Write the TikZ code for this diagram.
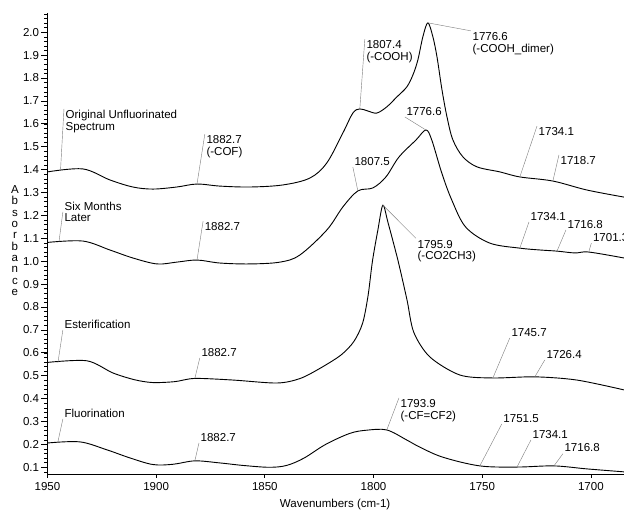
\documentclass[tikz,border=0pt]{standalone}
\usepackage{fontspec}
\setmainfont{Liberation Sans}

\begin{document}
\begin{tikzpicture}[x=-0.05435cm, y=5.725cm,
    lbl/.style={font=\fontsize{8.2}{8.3}\selectfont, inner sep=1pt, align=left},
    lead/.style={gray, line width=0.3pt},
    spec/.style={line width=0.65pt, line join=round},
    axisline/.style={line width=1.1pt}]

  \useasboundingbox (1971.85,-0.0908) rectangle (1684.8,2.1407);

  % axes
  \coordinate (O) at (1950,0.068);
  \coordinate (Ytop) at (1950,2.085);
  \coordinate (Xend) at (1684.8,0.068);
  \draw[axisline] (Ytop) -- (O) -- (Xend);

  \foreach \i in {4,...,104}
    \draw[line width=0.35pt] (1950,\i/50) -- ++(1.4,0);
  \foreach \v [count=\i] in {0.1,0.2,0.3,0.4,0.5,0.6,0.7,0.8,0.9,1.0,1.1,1.2,1.3,1.4,1.5,1.6,1.7,1.8,1.9,2.0}
    \draw[line width=0.5pt] (1950,\v) -- ++(2.8,0) node[lbl, left, inner sep=1.4pt] (Y\i) {\v};
  \foreach \w in {1950,1900,1850,1800,1750,1700}
    \draw[line width=0.5pt] (\w,0.068) -- (\w,0.052) node[lbl, below=2pt] (X\w) {\w};

  \node[lbl] (xlab) at (1817.65,-0.0646) {Wavenumbers (cm-1)};
  \node[lbl, align=center, font=\fontsize{8.2}{8.1}\selectfont] (ylab) at (1964.95,1.09)
    {A\\b\\s\\o\\r\\b\\a\\n\\c\\e};

  % original unfluorinated
  \draw[spec] plot[smooth, tension=0.55] coordinates {
    (1950,1.390) (1933.7,1.403) (1921.3,1.355) (1910.7,1.324) (1901.5,1.315)
    (1890.5,1.324) (1881.2,1.337) (1870.7,1.328) (1856.9,1.324) (1841.7,1.333)
    (1829.3,1.363) (1821.5,1.429) (1814.1,1.560) (1809.5,1.647) (1806.3,1.665)
    (1802.6,1.656) (1798.5,1.647) (1793.9,1.674) (1789.3,1.717) (1784.7,1.761)
    (1781.9,1.813) (1779.6,1.879) (1777.3,1.980) (1775.0,2.041) (1772.7,1.980)
    (1770.8,1.892) (1768.5,1.748) (1766.2,1.630) (1763.5,1.530) (1758.9,1.456)
    (1752.4,1.412) (1741.9,1.390) (1732.7,1.368) (1717.5,1.350) (1701.9,1.311)
    (1684.8,1.280)};

  % six months later
  \draw[spec] plot[smooth, tension=0.55] coordinates {
    (1950,1.082) (1933.7,1.088) (1921.3,1.049) (1910.7,1.014) (1899.6,0.988)
    (1890.5,0.996) (1881.2,1.005) (1870.7,0.992) (1856.9,0.988) (1843.0,0.996)
    (1833.9,1.027) (1821.5,1.136) (1814.1,1.237) (1807.2,1.307) (1800.3,1.320)
    (1794.3,1.368) (1788.3,1.455) (1780.5,1.529) (1775.9,1.573) (1773.2,1.529)
    (1768.6,1.385) (1764.0,1.267) (1757.6,1.149) (1746.5,1.079) (1732.7,1.057)
    (1723.5,1.049) (1715.6,1.044) (1707.3,1.036) (1701.0,1.040) (1684.8,1.014)};

  % esterification
  \draw[spec] plot[smooth, tension=0.5] coordinates {
    (1950,0.558) (1931.8,0.565) (1919.9,0.512) (1909.8,0.482) (1901.5,0.470)
    (1891.4,0.474) (1882.2,0.488) (1864.7,0.481) (1844.5,0.468) (1834.0,0.487)
    (1825.0,0.530) (1815.0,0.590) (1809.0,0.650) (1805.0,0.730) (1802.5,0.850)
    (1800.5,1.000) (1798.0,1.136) (1795.7,1.245) (1793.4,1.171) (1788.8,1.005)
    (1784.6,0.831) (1781.5,0.690) (1774.1,0.582) (1760.3,0.503) (1745.1,0.490)
    (1725.8,0.495) (1706.5,0.481) (1684.8,0.438)};

  % fluorination
  \draw[spec] plot[smooth, tension=0.55] coordinates {
    (1950,0.206) (1935.1,0.211) (1922.6,0.176) (1912.1,0.141) (1901.5,0.112)
    (1892.3,0.113) (1882.2,0.128) (1870.7,0.119) (1860.0,0.108) (1848.0,0.100)
    (1840.0,0.108) (1832.0,0.140) (1822.0,0.200) (1810.9,0.248) (1803.1,0.262)
    (1793.9,0.263) (1784.7,0.219) (1778.7,0.188) (1768.1,0.144) (1751.1,0.106)
    (1734.0,0.101) (1717.0,0.106) (1701.9,0.093) (1684.8,0.080)};

  % peak labels
  \coordinate (p1a) at (1944,1.395);
  \coordinate (p1b) at (1881.2,1.337);
  \coordinate (p1c) at (1806.3,1.665);
  \coordinate (p1d) at (1775.0,2.041);
  \coordinate (p1e) at (1732.7,1.368);
  \coordinate (p1f) at (1717.5,1.350);
  \node[lbl, anchor=north west] (orig) at (1942.4,1.665) {Original Unfluorinated\\Spectrum};
  \node[lbl, anchor=north west] (cof) at (1877.6,1.555) {1882.7\\(-COF)};
  \node[lbl, anchor=north west] (cooh) at (1804.0,1.970) {1807.4\\(-COOH)};
  \node[lbl, anchor=north west] (dimer) at (1755.2,2.006) {1776.6\\(-COOH\_dimer)};
  \node[lbl, anchor=north west] (a1734) at (1724.8,1.590) {1734.1};
  \node[lbl, anchor=north west] (a1718) at (1714.7,1.464) {1718.7};
  \draw[lead] (p1a) -- (orig.north west);
  \draw[lead] (p1b) -- (cof.north west);
  \draw[lead] (p1c) -- (cooh.north west);
  \draw[lead] (p1d) -- (dimer.north west);
  \draw[lead] (p1e) -- (a1734.north west);
  \draw[lead] (p1f) -- (a1718.north west);

  \coordinate (p2a) at (1944.7,1.084);
  \coordinate (p2b) at (1881.2,1.005);
  \coordinate (p2c) at (1807.2,1.307);
  \coordinate (p2d) at (1775.9,1.573);
  \coordinate (p2e) at (1732.7,1.057);
  \coordinate (p2f) at (1715.6,1.044);
  \coordinate (p2g) at (1701.0,1.040);
  \node[lbl, anchor=west] (six) at (1942.9,1.215) {Six Months\\Later};
  \node[lbl, anchor=north west] (b1882) at (1878.4,1.175) {1882.7};
  \node[lbl, anchor=south west] (b1807) at (1809.5,1.411) {1807.5};
  \node[lbl, anchor=south west] (b1776) at (1785.6,1.630) {1776.6};
  \node[lbl, anchor=south west] (b1734) at (1728.5,1.171) {1734.1};
  \node[lbl, anchor=south west] (b1716) at (1711.5,1.136) {1716.8};
  \node[lbl, anchor=south west] (b1701) at (1699.8,1.079) {1701.3};
  \draw[lead] (p2a) -- (six.west);
  \draw[lead] (p2b) -- (b1882.north west);
  \draw[lead] (p2c) -- (b1807.south west);
  \draw[lead] (p2d) -- (b1776.south west);
  \draw[lead] (p2e) -- (b1734.south west);
  \draw[lead] (p2f) -- (b1716.south west);
  \draw[lead] (p2g) -- (b1701.south west);

  \coordinate (p3a) at (1945.2,0.556);
  \coordinate (p3b) at (1882.2,0.488);
  \coordinate (p3c) at (1795.7,1.245);
  \coordinate (p3d) at (1745.1,0.490);
  \coordinate (p3e) at (1725.8,0.495);
  \node[lbl, anchor=south west] (ester) at (1942.9,0.700) {Esterification};
  \node[lbl, anchor=south west] (c1882) at (1879.9,0.578) {1882.7};
  \node[lbl, anchor=north west] (co2) at (1780.5,1.100) {1795.9\\(-CO2CH3)};
  \node[lbl, anchor=south west] (c1745) at (1737.3,0.665) {1745.7};
  \node[lbl, anchor=south west] (c1726) at (1721.2,0.569) {1726.4};
  \draw[lead] (p3a) -- (ester.south west);
  \draw[lead] (p3b) -- (c1882.south west);
  \draw[lead] (p3c) -- (co2.north west);
  \draw[lead] (p3d) -- (c1745.south west);
  \draw[lead] (p3e) -- (c1726.south west);

  \coordinate (p4a) at (1945.2,0.211);
  \coordinate (p4b) at (1882.2,0.128);
  \coordinate (p4c) at (1793.9,0.263);
  \coordinate (p4d) at (1751.1,0.106);
  \coordinate (p4e) at (1734.0,0.101);
  \coordinate (p4f) at (1717.0,0.106);
  \node[lbl, anchor=south west] (fluor) at (1942.9,0.311) {Fluorination};
  \node[lbl, anchor=south west] (d1882) at (1880.3,0.206) {1882.7};
  \node[lbl, anchor=north west] (cf2) at (1788.3,0.403) {1793.9\\(-CF=CF2)};
  \node[lbl, anchor=south west] (d1751) at (1741.0,0.289) {1751.5};
  \node[lbl, anchor=south west] (d1734) at (1727.6,0.219) {1734.1};
  \node[lbl, anchor=south west] (d1716) at (1712.9,0.159) {1716.8};
  \draw[lead] (p4a) -- (fluor.south west);
  \draw[lead] (p4b) -- (d1882.south west);
  \draw[lead] (p4c) -- (cf2.north west);
  \draw[lead] (p4d) -- (d1751.south west);
  \draw[lead] (p4e) -- (d1734.south west);
  \draw[lead] (p4f) -- (d1716.south west);
\end{tikzpicture}
\end{document}
